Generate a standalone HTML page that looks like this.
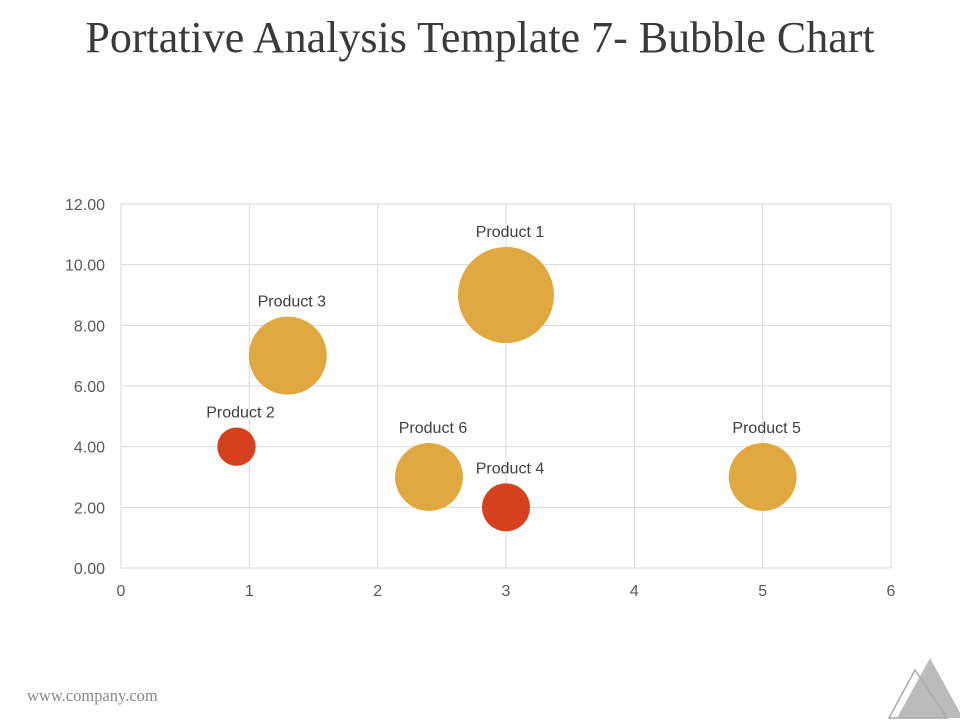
<!DOCTYPE html>
<html><head><meta charset="utf-8">
<style>
body{margin:0;width:960px;height:720px;background:#fff;overflow:hidden;position:relative;font-family:"Liberation Sans",sans-serif}
#title{position:absolute;top:12px;left:0;width:960px;text-align:center;font-family:"Liberation Serif",serif;font-size:44px;color:#3a3a3a}
#footer{position:absolute;left:27px;top:686px;font-family:"Liberation Serif",serif;font-size:16.5px;color:#888}
</style></head><body>
<div id="title">Portative Analysis Template 7- Bubble Chart</div>
<svg id="chart" width="960" height="720" style="position:absolute;left:0;top:0"></svg>
<div id="footer">www.company.com</div>
<svg width="80" height="70" style="position:absolute;left:885px;top:652px">
<polygon points="45,6 78,66 12,66" fill="#bbb"/>
<polygon points="30,18 62,66 4,66" fill="none" stroke="#aaa" stroke-width="1.5"/>
</svg>
<script>
const names=["Product 1","Product 2","Product 3","Product 4","Product 5","Product 6"];
const xs=[3,0.9,1.3,3,5,2.4];
const ys=[9,4,7,2,3,3];
const sizes=[10,1.6,6.6,2.5,5,5];
const kinds=[0,1,0,1,0,0];
const xTicks=[0,1,2,3,4,5,6];
const yTicks=["0.00","2.00","4.00","6.00","8.00","10.00","12.00"];
const NS="http://www.w3.org/2000/svg";
const svg=document.getElementById('chart');
const L=121,R=891,T=204,B=568;
const sx=v=>L+(v-0)/6*(R-L);
const sy=v=>B-(v-0)/12*(B-T);
const maxR=48,maxS=Math.max(...sizes);
const rr=s=>maxR*Math.sqrt(s/maxS);
function mk(t,a){const e=document.createElementNS(NS,t);for(const k in a)e.setAttribute(k,a[k]);svg.appendChild(e);return e;}
xTicks.forEach(v=>{
 const l=mk('line',{x1:sx(v),x2:sx(v),y1:T,y2:B,stroke:'#d9d9d9','stroke-width':1});
 
 
 const t=mk('text',{x:sx(v),y:B+28,'text-anchor':'middle','font-size':16,fill:'#595959'});
 t.textContent=v;
 
 
});
yTicks.forEach(s=>{
 const v=parseFloat(s);
 const l=mk('line',{x1:L,x2:R,y1:sy(v),y2:sy(v),stroke:'#d9d9d9','stroke-width':1});
 
 
 const t=mk('text',{x:105,y:sy(v)+6,'text-anchor':'end','font-size':16,fill:'#595959'});
 t.textContent=s;
 
 
});
names.forEach((n,i)=>{
 const r=rr(sizes[i]);
 const c=mk('circle',{cx:sx(xs[i]),cy:sy(ys[i]),r:r,fill:kinds[i]?'#D5401E':'#E0A841'});
 
 
 const t=mk('text',{x:sx(xs[i])+4,y:sy(ys[i])-r-10,'text-anchor':'middle','font-size':16,fill:'#404040'});
 t.textContent=n;
 
 
});
</script>
</body></html>
